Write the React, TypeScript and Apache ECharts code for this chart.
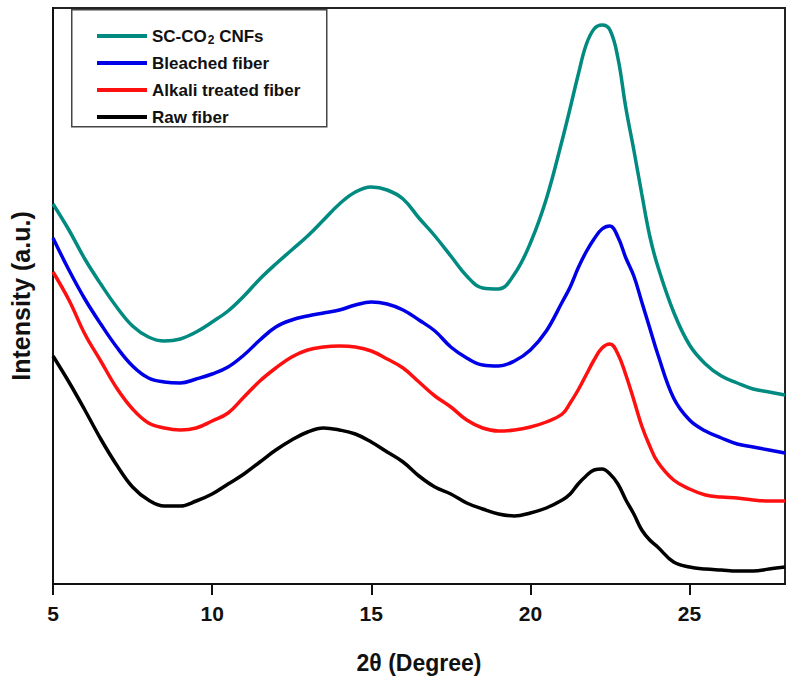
import React, { useEffect, useRef } from "react";
import * as echarts from "echarts";

// 2θ positions (degrees)
const twoTheta: number[] = [
  5, 5.5, 6, 6.5, 7, 7.5, 8, 8.5, 9, 9.5, 10, 10.5, 11, 11.5, 12, 12.5, 13, 13.5, 14, 14.5,
  15, 15.5, 16, 16.5, 17, 17.5, 18, 18.5, 19, 19.5, 20, 20.5, 21,
  21.25, 21.5, 21.75, 22, 22.25, 22.5, 22.75, 23, 23.25, 23.5, 23.75, 24,
  24.5, 25, 25.5, 26, 26.5, 27, 27.5, 28,
];

const scco2CNFs: number[] = [
  380, 354, 325, 300, 277, 258, 247, 243, 245, 252, 262, 273, 288, 305, 320, 334, 348, 364, 380, 392,
  397, 394, 385, 366, 348, 328, 308, 296, 295, 310, 341, 385, 444,
  476, 509, 539, 555, 559, 554, 526, 476, 434, 390, 348, 318,
  272, 239, 220, 208, 201, 195, 192, 189,
];

const bleachedFiber: number[] = [
  346, 314, 285, 260, 237, 218, 206, 202, 201, 205, 210, 217, 229, 244, 257, 264, 268, 271, 274, 279,
  282, 280, 274, 264, 253, 237, 226, 219, 218, 223, 234, 253, 282,
  297, 316, 332, 345, 355, 358, 347, 326, 308, 282, 256, 230,
  186, 164, 153, 146, 140, 137, 134, 131,
];

const alkaliFiber: number[] = [
  312, 284, 250, 223, 196, 175, 161, 156, 154, 156, 163, 171, 187, 203, 216, 227, 234, 237, 238, 237,
  233, 225, 216, 202, 188, 177, 164, 156, 153, 154, 157, 162, 170,
  181, 194, 209, 224, 236, 240, 230, 209, 184, 158, 138, 122,
  104, 95, 89, 87, 86, 84, 83, 83,
];

const rawFiber: number[] = [
  228, 202, 174, 145, 119, 97, 84, 78, 78, 83, 90, 100, 110, 122, 134, 144, 152, 156, 154, 150,
  142, 132, 122, 108, 97, 90, 81, 75, 70, 68, 71, 76, 84,
  90, 100, 108, 114, 115, 110, 100, 84, 70, 54, 44, 37,
  22, 17, 15, 14, 13, 13, 15, 17,
];

const seriesNames: string[] = ["SC-CO2 CNFs", "Bleached fiber", "Alkali treated fiber", "Raw fiber"];
const seriesColors: string[] = ["#008a80", "#0000e6", "#ff1010", "#000000"];
const xTicks: number[] = [5, 10, 15, 20, 25];

const FONT = "'Liberation Sans', Arial, Helvetica, sans-serif";

export default function App() {
  const ref = useRef<HTMLDivElement>(null);
  useEffect(() => {
    if (!ref.current) return;
    const chart = echarts.init(ref.current, undefined, { renderer: "svg" });
    const allData = [scco2CNFs, bleachedFiber, alkaliFiber, rawFiber];
    const series = allData.map((vals, i) => ({
      name: seriesNames[i],
      type: "line",
      data: vals.map((v, j) => [twoTheta[j], v]),
      showSymbol: false,
      smooth: 0.4,
      lineStyle: { color: seriesColors[i], width: 3.5 },
      itemStyle: { color: seriesColors[i] },
      z: 10 - i,
    }));
    chart.setOption({
      animation: false,
      backgroundColor: "#ffffff",
      grid: {
        left: 53,
        top: 8,
        right: 11,
        bottom: 98,
        show: true,
        borderColor: "#222",
        borderWidth: 2,
        backgroundColor: "transparent",
      },
      xAxis: {
        type: "value",
        min: 5,
        max: 28,
        interval: 5,
        splitLine: { show: false },
        axisLine: { show: true, lineStyle: { color: "#111", width: 2 } },
        axisTick: {
          show: true,
          inside: false,
          length: 11,
          lineStyle: { color: "#111", width: 2 },
          customValues: xTicks,
        },
        axisLabel: {
          customValues: xTicks,
          margin: 19,
          fontFamily: FONT,
          fontWeight: "bold",
          fontSize: 21,
          color: "#111",
        },
        name: "2θ (Degree)",
        nameLocation: "middle",
        nameGap: 67,
        nameTextStyle: { fontFamily: FONT, fontWeight: "bold", fontSize: 23, color: "#111" },
      },
      yAxis: {
        type: "value",
        min: 0,
        max: 576,
        splitLine: { show: false },
        axisLine: { show: true, lineStyle: { color: "#111", width: 2 } },
        axisTick: { show: false },
        axisLabel: { show: false },
        name: "Intensity (a.u.)",
        nameLocation: "middle",
        nameGap: 20,
        nameTextStyle: { fontFamily: FONT, fontWeight: "bold", fontSize: 25, color: "#111" },
      },
      legend: {
        show: true,
        orient: "vertical",
        left: 97,
        top: 26,
        padding: 0,
        itemWidth: 50,
        itemHeight: 4,
        itemGap: 7,
        icon: "rect",
        selectedMode: false,
        data: seriesNames,
        formatter: (name: string) => (name === "SC-CO2 CNFs" ? "{n|SC-CO}{sub|2}{n| CNFs}" : name),
        textStyle: {
          fontFamily: FONT,
          fontWeight: "bold",
          fontSize: 17,
          lineHeight: 20,
          color: "#111",
          rich: {
            n: { fontFamily: FONT, fontWeight: "bold", fontSize: 17, color: "#111", lineHeight: 20 },
            sub: {
              fontFamily: FONT,
              fontWeight: "bold",
              fontSize: 12,
              color: "#111",
              lineHeight: 20,
              verticalAlign: "bottom",
              padding: [4, 0, 0, 1],
            },
          },
        },
      },
      graphic: [
        {
          type: "rect",
          left: 71,
          top: 9,
          shape: { width: 255, height: 117 },
          style: { fill: "transparent", stroke: "#444", lineWidth: 1.5 },
          z: 100,
        },
      ],
      series,
    });
    return () => chart.dispose();
  }, []);
  return (
    <div
      ref={ref}
      style={{ width: 796, height: 682, position: "absolute", left: 0, top: 0, background: "#fff" }}
    />
  );
}
